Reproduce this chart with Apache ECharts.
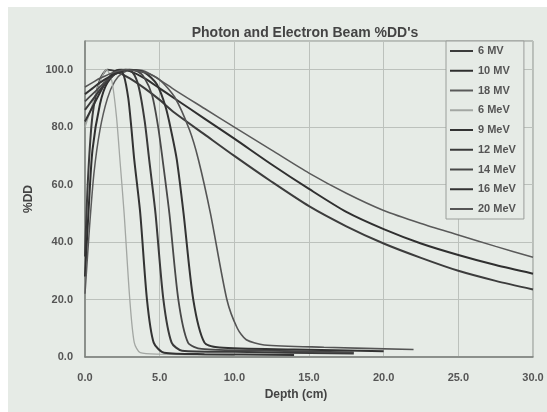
<!DOCTYPE html>
<html>
<head>
<meta charset="utf-8">
<script src="https://cdn.jsdelivr.net/npm/echarts@6/dist/echarts.min.js"></script>
<style>
html,body{margin:0;padding:0;background:#ffffff;width:547px;height:412px;overflow:hidden;}
#chart{position:absolute;left:8px;top:7px;width:539px;height:405px;}
</style>
</head>
<body>
<div id="chart"></div>
<script>
// ---- Data ----
var seriesNames = ['6 MV','10 MV','18 MV','6 MeV','9 MeV','12 MeV','14 MeV','16 MeV','20 MeV'];

var depth6MV = [0,0.2,0.5,1,1.5,2,3,4,5,6,8,10,12.5,15,17.5,20,22.5,25,27.5,30];
var pdd6MV   = [35,62,84,96.5,100,99.5,97,93.5,89.5,85,77.5,70,61,52.5,45.5,39.5,34.5,30,26.5,23.5];

var depth10MV = [0,0.25,0.5,1,1.5,2.4,3,4,5,6,8,10,12.5,15,17.5,20,22.5,25,27.5,30];
var pdd10MV   = [28,52,72,88,95.5,100,99.5,97,93.5,90,83,76,67,58.5,50.5,44.5,39.5,35.5,32,29];

var depth18MV = [0,0.3,0.6,1,1.5,2,2.5,3.2,4,5,6,8,10,12.5,15,17.5,20,22.5,25,27.5,30];
var pdd18MV   = [22,45,64,79,90,96,98.8,100,99.5,96.5,93,86.5,80,72,64,57,51,46.5,42.5,38.5,34.7];

var depth6MeV = [0,0.5,1.0,1.45,1.8,2.1,2.34,2.62,3.0,3.3,3.7,5,10];
var pdd6MeV   = [80,88,96,100,96,84,68.6,50,20,5,1.5,1.0,0.6];

var depth9MeV = [0,0.5,1,1.5,2,2.3,2.6,2.9,3.1,3.3,3.7,4.15,4.6,5.3,8,14];
var pdd9MeV   = [82,87,92,96.5,99.5,100,98,90,80,68.6,50,20,5,1.5,1.0,0.7];

var depth12MeV = [0,0.5,1,1.5,2,2.7,3.2,3.6,4.0,4.3,4.72,5.25,5.8,6.5,10,18];
var pdd12MeV   = [86,89.5,93,96,98.5,100,99,94,82,68.6,50,20,5,2.2,1.8,1.2];

var depth14MeV = [0,0.5,1,1.5,2,2.8,3.5,4,4.5,4.9,5.2,5.65,6.25,6.9,7.8,12,18];
var pdd14MeV   = [89,91.5,94,96.5,98.5,100,99.5,97,91,80,68.6,50,20,5,2.8,2.2,1.6];

var depth16MeV = [0,0.5,1,2,3,4,4.8,5.4,5.8,6.15,6.6,7.25,8.0,9,14,20];
var pdd16MeV   = [91.5,93.5,95.5,98.5,100,99,95,87,78,68.6,50,20,5,3.3,2.6,2.0];

var depth20MeV = [0,0.5,1,2,2.8,4,5,6,7,7.6,8.4,9.5,10.2,10.8,12,16,22];
var pdd20MeV   = [94,95.5,97,99.2,100,99,96.5,90.5,79,68.6,50,20,10,6,4.2,3.4,2.6];

var xTicks = [0,5,10,15,20,25,30];
var yTicks = [0,20,40,60,80,100];

// ---- Styles ----
var depths = [depth6MV,depth10MV,depth18MV,depth6MeV,depth9MeV,depth12MeV,depth14MeV,depth16MeV,depth20MeV];
var values = [pdd6MV,pdd10MV,pdd18MV,pdd6MeV,pdd9MeV,pdd12MeV,pdd14MeV,pdd16MeV,pdd20MeV];
var colors = ['#3c3c3c','#2f2f2f','#5a5a5a','#a3a7a3','#333333','#3a3a3a','#484848','#333333','#555555'];
var widths = [2,2,1.5,1.3,2,2,1.8,2,1.6];

function pairs(xs, ys){ var out=[]; for(var i=0;i<xs.length;i++){ out.push([xs[i], ys[i]]); } return out; }

var series = seriesNames.map(function(n, i){
  return {
    name: n, type: 'line', data: pairs(depths[i], values[i]),
    showSymbol: false, symbol: 'none', smooth: 0.25,
    lineStyle: {color: colors[i], width: widths[i]},
    itemStyle: {color: colors[i]},
    z: 3
  };
});

var FONT = 'Arial, "Liberation Sans", sans-serif';
var BG = '#e6ebe6';

var chart = echarts.init(document.getElementById('chart'));
chart.setOption({
  backgroundColor: BG,
  animation: false,
  title: {
    text: "Photon and Electron Beam %DD's",
    left: 292, top: 14, textAlign: 'center',
    textStyle: {fontFamily: FONT, fontSize: 14, fontWeight: 'bold', color: '#444'}
  },
  legend: {
    data: seriesNames,
    orient: 'vertical',
    left: 438, top: 34,
    padding: [3, 8, 3, 4],
    itemWidth: 23, itemHeight: 2,
    itemGap: 5.75,
    icon: 'rect',
    borderColor: '#9a9e9a', borderWidth: 1,
    backgroundColor: BG,
    textStyle: {fontFamily: FONT, fontSize: 11, fontWeight: 'bold', color: '#555', lineHeight: 14}
  },
  grid: {
    left: 77, top: 34, width: 448, height: 316,
    show: true, borderColor: '#8c908c', borderWidth: 1, backgroundColor: BG
  },
  xAxis: {
    type: 'value', min: 0, max: 30, interval: 5,
    name: 'Depth (cm)', nameLocation: 'middle', nameGap: 32,
    nameTextStyle: {fontFamily: FONT, fontSize: 12, fontWeight: 'bold', color: '#444', padding: [0, 26, 0, 0]},
    axisLine: {show: true, lineStyle: {color: '#7c807c', width: 1.5}},
    axisTick: {show: false},
    splitLine: {show: true, lineStyle: {color: '#bcc1bc', width: 1}},
    axisLabel: {
      margin: 15, fontFamily: FONT, fontSize: 11, fontWeight: 'bold', color: '#555',
      formatter: function(v){ return xTicks.indexOf(v) >= 0 ? v.toFixed(1) : ''; }
    }
  },
  yAxis: {
    type: 'value', min: 0, max: 110, interval: 20,
    name: '%DD', nameLocation: 'middle', nameGap: 50, nameRotate: 90,
    nameTextStyle: {fontFamily: FONT, fontSize: 12, fontWeight: 'bold', color: '#444'},
    axisLine: {show: true, lineStyle: {color: '#7c807c', width: 1.5}},
    axisTick: {show: false},
    splitLine: {show: true, lineStyle: {color: '#bcc1bc', width: 1}},
    axisLabel: {
      margin: 12, fontFamily: FONT, fontSize: 11, fontWeight: 'bold', color: '#555',
      formatter: function(v){ return yTicks.indexOf(v) >= 0 ? v.toFixed(1) : ''; }
    }
  },
  series: series
});
</script>
</body>
</html>
